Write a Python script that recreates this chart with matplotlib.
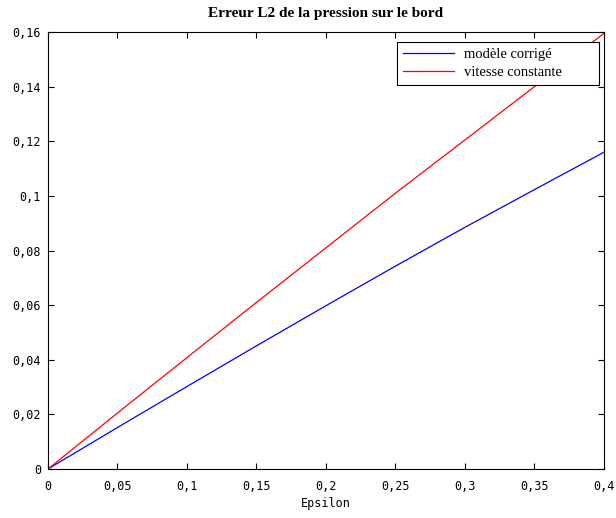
import matplotlib
matplotlib.use("Agg")
import matplotlib.pyplot as plt
from matplotlib.ticker import FuncFormatter

# data
epsilon = [0, 0.05, 0.1, 0.15, 0.2, 0.25, 0.3, 0.35, 0.4]
err_corrige = [0, 0.0152, 0.0302, 0.0451, 0.0598, 0.0743, 0.0885, 0.1023, 0.1160]
err_constante = [0, 0.0205, 0.0408, 0.0610, 0.0810, 0.1010, 0.1205, 0.1400, 0.1595]

x_ticks = [0, 0.05, 0.1, 0.15, 0.2, 0.25, 0.3, 0.35, 0.4]
y_ticks = [0, 0.02, 0.04, 0.06, 0.08, 0.1, 0.12, 0.14, 0.16]

fig = plt.figure(figsize=(6.16, 5.18), dpi=100)
ax = fig.add_axes([0.0779, 0.0946, 0.9026, 0.8436])

ax.plot(epsilon, err_corrige, color="blue", lw=0.9, label="modèle corrigé")
ax.plot(epsilon, err_constante, color="red", lw=0.9, label="vitesse constante")

ax.set_xlim(0, 0.4)
ax.set_ylim(0, 0.16)
ax.set_xticks(x_ticks)
ax.set_yticks(y_ticks)

comma = FuncFormatter(lambda v, pos: f"{v:g}".replace(".", ","))
ax.xaxis.set_major_formatter(comma)
ax.yaxis.set_major_formatter(comma)

ax.tick_params(direction="in", length=4, width=0.8, top=True, right=True,
               labelsize=8.5)
ax.tick_params(axis="x", pad=8)
ax.tick_params(axis="y", pad=5)
for lab in ax.get_xticklabels() + ax.get_yticklabels():
    lab.set_family("DejaVu Sans Mono")
for s in ax.spines.values():
    s.set_linewidth(0.8)

ax.set_xlabel("Epsilon", family="DejaVu Sans Mono", fontsize=8.5, labelpad=3)
ax.set_title("Erreur L2 de la pression sur le bord", family="Liberation Serif",
             fontweight="bold", fontsize=11, pad=11)

# legend box stretched like the MATLAB one (empty space on the right)
leg = ax.legend(loc="upper left", bbox_to_anchor=(0.628, 0.879, 0.363, 0.098),
                mode="expand", prop={"family": "Liberation Serif", "size": 10.5},
                fancybox=False, framealpha=1, edgecolor="black",
                handlelength=3.5, handletextpad=0.7, borderpad=0.4,
                labelspacing=0.3, borderaxespad=0)
leg.get_frame().set_linewidth(0.8)

fig.savefig("out.png", dpi=100)
